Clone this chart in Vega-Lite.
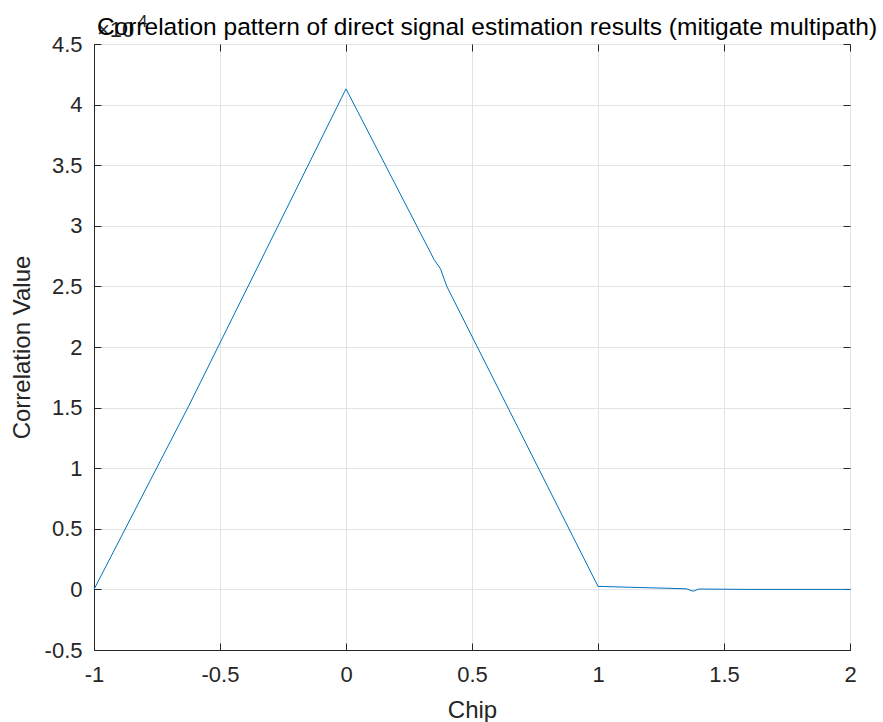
{
  "$schema": "https://vega.github.io/schema/vega-lite/v6.json",
  "width": 756,
  "height": 606,
  "autosize": "none",
  "padding": {"left": 94, "top": 44, "right": 33, "bottom": 72},
  "background": "white",
  "config": {
    "view": {"stroke": "#262626", "strokeWidth": 1},
    "font": "Liberation Sans",
    "axis": {
      "domainColor": "#262626",
      "tickColor": "#262626",
      "labelColor": "#262626",
      "titleColor": "#262626",
      "labelFont": "Liberation Sans",
      "titleFont": "Liberation Sans",
      "labelFontSize": 22,
      "titleFontSize": 24,
      "titleFontWeight": "normal",
      "gridColor": "#e3e3e3",
      "gridWidth": 1
    }
  },
  "title": {
    "text": "Correlation pattern of direct signal estimation results (mitigate multipath)",
    "fontSize": 24.5,
    "fontWeight": "normal",
    "color": "#000000",
    "font": "Liberation Sans",
    "anchor": "middle",
    "frame": "group",
    "baseline": "alphabetic",
    "offset": -46,
    "dx": 15
  },
  "data": {
    "values": [
      {"chip": -1.0, "corr": 0},
      {"chip": -0.623, "corr": 15180},
      {"chip": 0.0, "corr": 41300},
      {"chip": 0.35, "corr": 27200},
      {"chip": 0.375, "corr": 26450},
      {"chip": 0.4, "corr": 25000},
      {"chip": 1.0, "corr": 250},
      {"chip": 1.35, "corr": 50},
      {"chip": 1.378, "corr": -150},
      {"chip": 1.4, "corr": 30},
      {"chip": 1.6, "corr": 0},
      {"chip": 2.0, "corr": 0}
    ]
  },
  "resolve": {"axis": {"x": "independent", "y": "independent"}},
  "layer": [
    {
      "mark": {"type": "line", "color": "#0072BD", "strokeWidth": 1},
      "encoding": {
        "x": {
          "field": "chip", "type": "quantitative",
          "scale": {"domain": [-1, 2], "nice": false, "zero": false},
          "axis": {
            "values": [-1, -0.5, 0, 0.5, 1, 1.5, 2],
            "labelExpr": "'' + datum.value",
            "grid": true,
            "tickSize": -7,
            "labelPadding": 21,
            "title": "Chip",
            "titlePadding": 13,
            "labelFlush": false
          }
        },
        "y": {
          "field": "corr", "type": "quantitative",
          "scale": {"domain": [-5000, 45000], "nice": false, "zero": false},
          "axis": {
            "values": [-5000, 0, 5000, 10000, 15000, 20000, 25000, 30000, 35000, 40000, 45000],
            "labelExpr": "'' + (datum.value / 10000)",
            "grid": true,
            "tickSize": -7,
            "labelPadding": 19,
            "title": "Correlation Value",
            "titlePadding": 10,
            "labelFlush": false
          }
        }
      }
    },
    {
      "data": {"values": [{"chip": -1.0, "corr": 45000, "t": "×10"}]},
      "mark": {"type": "text", "align": "left", "baseline": "alphabetic", "dx": 3, "dy": -7, "fontSize": 22, "color": "#262626", "font": "Liberation Sans"},
      "encoding": {
        "x": {"field": "chip", "type": "quantitative", "axis": {"orient": "top", "values": [-1, -0.5, 0, 0.5, 1, 1.5, 2], "labels": false, "grid": false, "tickSize": -7, "title": null, "domain": false}},
        "y": {"field": "corr", "type": "quantitative", "axis": {"orient": "right", "values": [-5000, 0, 5000, 10000, 15000, 20000, 25000, 30000, 35000, 40000, 45000], "labels": false, "grid": false, "tickSize": -7, "title": null, "domain": false}},
        "text": {"field": "t"}
      }
    },
    {
      "data": {"values": [{"chip": -1.0, "corr": 45000, "t": "4"}]},
      "mark": {"type": "text", "align": "left", "baseline": "alphabetic", "dx": 44, "dy": -17, "fontSize": 17, "color": "#262626", "font": "Liberation Sans"},
      "encoding": {
        "x": {"field": "chip", "type": "quantitative", "axis": null},
        "y": {"field": "corr", "type": "quantitative", "axis": null},
        "text": {"field": "t"}
      }
    }
  ]
}
